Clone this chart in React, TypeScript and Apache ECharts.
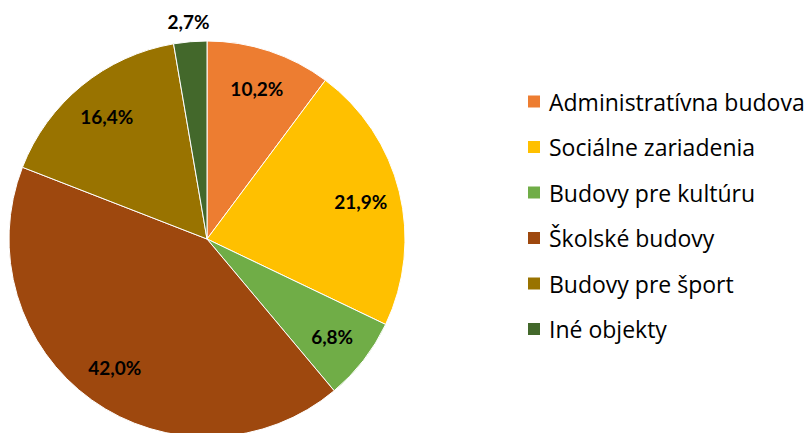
import React, { useEffect, useRef } from "react";
import * as echarts from "echarts";

const categories = [
  "Administratívna budova",
  "Sociálne zariadenia",
  "Budovy pre kultúru",
  "Školské budovy",
  "Budovy pre šport",
  "Iné objekty",
];
const values = [10.2, 21.9, 6.8, 42.0, 16.4, 2.7];
const colors = ["#ED7D31", "#FFC000", "#70AD47", "#9E480E", "#997300", "#43682B"];

const CX = 207;
const CY = 239;
const R = 198;

export default function App() {
  const ref = useRef<HTMLDivElement>(null);
  useEffect(() => {
    document.body.style.margin = "0";
    const chart = echarts.init(ref.current!, null, { renderer: "svg" });
    const total = values.reduce((a, b) => a + b, 0);
    const cum: number[] = [];
    let acc = 0;
    values.forEach((v) => {
      cum.push(acc);
      acc += v;
    });
    chart.setOption({
      animation: false,
      color: colors,
      legend: {
        orient: "vertical",
        left: 526,
        top: 90,
        padding: 0,
        icon: "rect",
        itemWidth: 14,
        itemHeight: 14,
        itemGap: 22.5,
        textStyle: { fontFamily: "Open Sans", fontSize: 23, color: "#000", padding: [0, 0, 0, 3] },
        data: categories,
      },
      series: [
        {
          type: "pie",
          center: [CX, CY],
          radius: [0, R],
          startAngle: 90,
          clockwise: true,
          itemStyle: { borderColor: "#fff", borderWidth: 1 },
          label: {
            show: true,
            position: "inside",
            formatter: (p: any) => p.value.toFixed(1).replace(".", ",") + "%",
            fontFamily: "Lato",
            fontWeight: "bold",
            fontSize: 19,
            color: "#000",
          },
          labelLine: { show: false },
          labelLayout: (p: any) => {
            const i = p.dataIndex;
            const mid = ((cum[i] + values[i] / 2) / total) * Math.PI * 2;
            const f = i === 5 ? 1.1 : 0.8;
            return {
              x: CX + R * f * Math.sin(mid),
              y: CY - R * f * Math.cos(mid),
              align: "center",
              verticalAlign: "middle",
            };
          },
          data: categories.map((c, i) => ({ name: c, value: values[i] })),
        },
      ],
    });
    return () => chart.dispose();
  }, []);
  return <div ref={ref} style={{ width: 808, height: 433 }} />;
}
